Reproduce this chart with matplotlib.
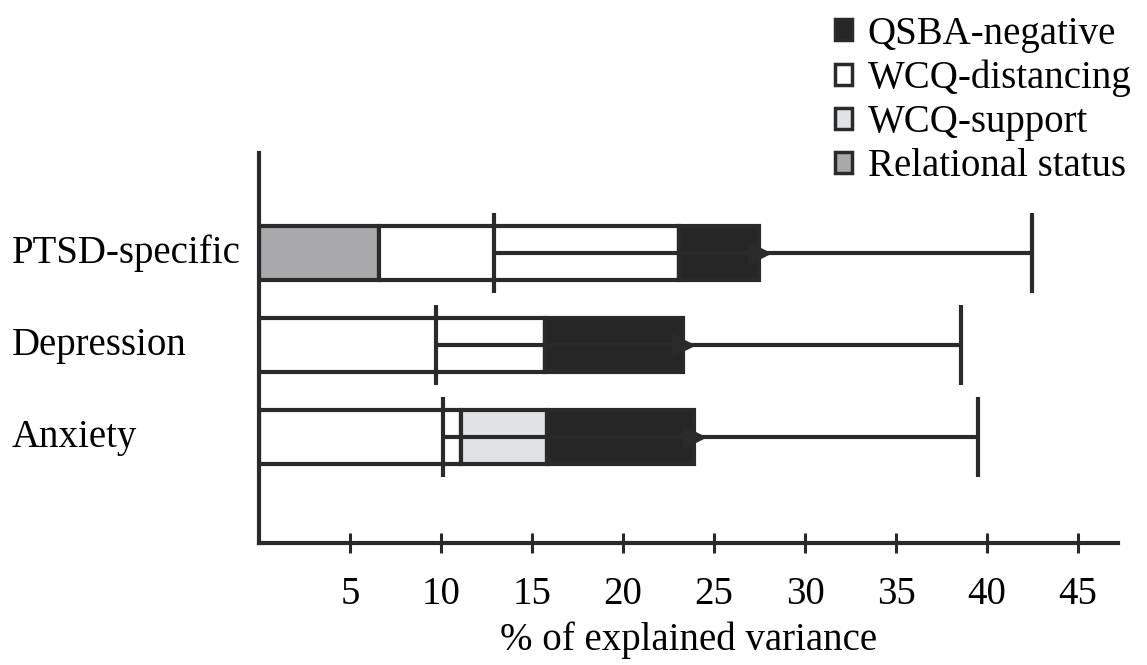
import numpy as np
import matplotlib
matplotlib.use("Agg")
import matplotlib.pyplot as plt
import matplotlib.transforms as mtransforms
from matplotlib.patches import Patch

# data
groups = ["PTSD-specific", "Depression", "Anxiety"]
relational = [6.6, 0.0, 0.0]
distancing = [16.5, 15.7, 11.1]
support = [0.0, 0.0, 4.7]
qsba = [4.4, 7.6, 8.1]
ci_low = [12.9, 9.7, 10.1]
ci_high = [42.5, 38.6, 39.5]
xticks = [5, 10, 15, 20, 25, 30, 35, 40, 45]
legend_order = ["QSBA-negative", "WCQ-distancing", "WCQ-support", "Relational status"]

plt.rcParams["font.family"] = ["Liberation Serif", "DejaVu Serif"]
ink = "#2a2a2a"
lw = 3.0

fig = plt.figure(figsize=(11.47, 6.65), dpi=100)
ax = fig.add_axes([0.2258, 0.1835, 0.7489, 0.5864])

y = np.arange(len(groups))
h = 0.59
segs = [
    (relational, "#a9a9ab", "Relational status"),
    (distancing, "white", "WCQ-distancing"),
    (support, "#e1e2e4", "WCQ-support"),
    (qsba, "#262626", "QSBA-negative"),
]
colors = {}
left = np.zeros(len(groups))
for vals, col, name in segs:
    vals = np.array(vals)
    ax.barh(y, vals, left=left, height=h, color=col, edgecolor=ink,
            linewidth=lw, zorder=2)
    left = left + vals
    colors[name] = col

total = left
xerr = [total - np.array(ci_low), np.array(ci_high) - total]
ax.errorbar(total, y, xerr=xerr, fmt=">", color=ink, markersize=16,
            elinewidth=lw, capsize=29, capthick=lw, zorder=3)

ax.set_xlim(0, 47.2)
ax.set_ylim(3.15, -1.09)
ax.spines["top"].set_visible(False)
ax.spines["right"].set_visible(False)
ax.spines["left"].set_linewidth(3)
ax.spines["bottom"].set_linewidth(3)
ax.spines["left"].set_color(ink)
ax.spines["bottom"].set_color(ink)
ax.set_yticks([])
ax.set_xticks(xticks)
ax.tick_params(axis="x", direction="inout", length=15, width=2.2,
               colors=ink, labelsize=28, pad=16)
ax.tick_params(axis="x", labelcolor="black")
ax.set_xlabel("% of explained variance", fontsize=28, labelpad=6)

trans = mtransforms.blended_transform_factory(fig.transFigure, ax.transData)
for yi, g in zip(y, groups):
    fig.text(12 / 1147, yi, g, transform=trans, fontsize=28,
             ha="left", va="center")

handles = [Patch(facecolor=colors[n], edgecolor=ink, linewidth=2.5, label=n)
           for n in legend_order]
fig.legend(handles=handles, loc="upper right", bbox_to_anchor=(1.0, 1.0),
           frameon=False, fontsize=28, handlelength=0.45, handleheight=0.45,
           handletextpad=0.4, labelspacing=0.18, borderaxespad=0.0)

fig.savefig("out.png", dpi=100)
